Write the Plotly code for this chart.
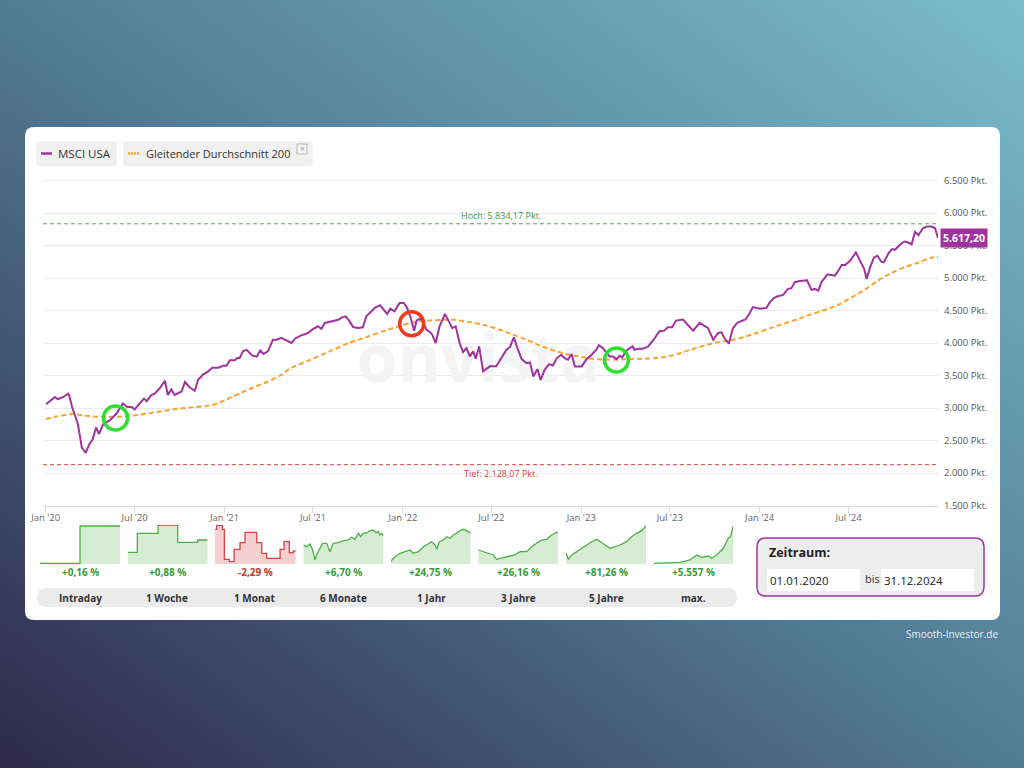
import base64
import plotly.graph_objects as go

# ---------------- data ----------------
msci_dates = [
    "2020-01-02", "2020-01-06", "2020-01-20", "2020-01-26", "2020-02-06", "2020-02-16", "2020-02-18",
    "2020-02-24", "2020-03-07", "2020-03-15", "2020-03-23", "2020-03-30", "2020-04-06", "2020-04-13",
    "2020-04-19", "2020-04-28", "2020-05-11", "2020-05-25", "2020-06-07", "2020-06-16", "2020-06-25",
    "2020-07-01", "2020-07-11", "2020-07-20", "2020-07-26", "2020-08-04", "2020-08-11", "2020-08-21",
    "2020-09-01", "2020-09-07", "2020-09-14", "2020-09-21", "2020-10-05", "2020-10-12", "2020-10-22",
    "2020-11-01", "2020-11-08", "2020-11-18", "2020-11-28", "2020-12-07", "2020-12-19", "2020-12-29",
    "2021-01-05", "2021-01-12", "2021-01-22", "2021-01-27", "2021-02-01", "2021-02-08", "2021-02-15",
    "2021-02-27", "2021-03-08", "2021-03-15", "2021-03-22", "2021-03-31", "2021-04-10", "2021-04-18",
    "2021-04-27", "2021-05-08", "2021-05-18", "2021-05-25", "2021-06-07", "2021-06-21", "2021-07-01",
    "2021-07-11", "2021-07-18", "2021-07-25", "2021-08-08", "2021-08-22", "2021-08-29", "2021-09-06",
    "2021-09-14", "2021-09-21", "2021-10-01", "2021-10-11", "2021-10-18", "2021-10-28", "2021-11-06",
    "2021-11-15", "2021-11-23", "2021-11-30", "2021-12-06", "2021-12-15", "2021-12-25", "2022-01-03",
    "2022-01-09", "2022-01-16", "2022-01-24", "2022-01-29", "2022-02-05", "2022-02-11", "2022-02-18",
    "2022-02-25", "2022-03-02", "2022-03-09", "2022-03-17", "2022-03-28", "2022-04-05", "2022-04-12",
    "2022-04-19", "2022-04-27", "2022-05-04", "2022-05-11", "2022-05-18", "2022-05-25", "2022-05-30",
    "2022-06-06", "2022-06-14", "2022-06-28", "2022-07-11", "2022-07-22", "2022-08-01", "2022-08-08",
    "2022-08-16", "2022-08-23", "2022-09-01", "2022-09-11", "2022-09-18", "2022-09-25", "2022-10-03",
    "2022-10-10", "2022-10-18", "2022-10-27", "2022-11-04", "2022-11-12", "2022-11-21", "2022-11-28",
    "2022-12-05", "2022-12-12", "2022-12-19", "2023-01-02", "2023-01-11", "2023-01-22", "2023-02-01",
    "2023-02-06", "2023-02-14", "2023-02-28", "2023-03-07", "2023-03-14", "2023-03-21", "2023-03-26",
    "2023-04-02", "2023-04-07", "2023-04-16", "2023-04-20", "2023-04-27", "2023-05-07", "2023-05-18",
    "2023-05-29", "2023-06-10", "2023-06-20", "2023-06-27", "2023-07-06", "2023-07-14", "2023-07-28",
    "2023-08-07", "2023-08-18", "2023-08-31", "2023-09-07", "2023-09-17", "2023-09-28", "2023-10-08",
    "2023-10-15", "2023-10-21", "2023-10-30", "2023-11-07", "2023-11-16", "2023-11-25", "2023-12-03",
    "2023-12-11", "2023-12-18", "2023-12-26", "2024-01-02", "2024-01-15", "2024-01-21", "2024-01-30",
    "2024-02-07", "2024-02-18", "2024-02-28", "2024-03-06", "2024-03-13", "2024-03-23", "2024-04-07",
    "2024-04-16", "2024-04-23", "2024-04-30", "2024-05-07", "2024-05-19", "2024-05-28", "2024-06-03",
    "2024-06-10", "2024-06-17", "2024-06-24", "2024-07-04", "2024-07-16", "2024-07-25", "2024-08-02",
    "2024-08-07", "2024-08-14", "2024-08-22", "2024-08-29", "2024-09-06", "2024-09-11", "2024-09-21",
    "2024-09-28", "2024-10-04", "2024-10-15", "2024-10-23", "2024-10-31", "2024-11-07", "2024-11-14",
    "2024-11-21", "2024-11-30", "2024-12-08", "2024-12-18", "2024-12-25", "2024-12-31",
]
msci_values = [
    3060, 3083, 3170, 3135, 3170, 3222, 3200,
    3015, 2750, 2390, 2310, 2440, 2515, 2700,
    2600, 2755, 2810, 2915, 3070, 3015, 3015,
    2980, 3070, 3145, 3105, 3200, 3220, 3300,
    3420, 3200, 3285, 3200, 3255, 3400, 3315,
    3265, 3435, 3515, 3560, 3620, 3620, 3650,
    3650, 3735, 3735, 3770, 3770, 3875, 3895,
    3805, 3790, 3885, 3830, 3875, 4050, 4050,
    4078, 4035, 4000, 4066, 4118, 4154, 4215,
    4257, 4220, 4308, 4333, 4358, 4395, 4410,
    4333, 4246, 4230, 4241, 4410, 4487, 4548,
    4580, 4512, 4446, 4528, 4487, 4615, 4615,
    4549, 4410, 4190, 4343, 4374, 4333, 4205,
    4170, 4128, 4000, 4256, 4446, 4333, 4230,
    4256, 4000, 3862, 3923, 3795, 3872, 3758,
    3949, 3564, 3641, 3641, 3769, 3897, 3938,
    4088, 3930, 3752, 3690, 3700, 3485, 3598,
    3432, 3587, 3675, 3655, 3768, 3820, 3768,
    3742, 3830, 3640, 3640, 3742, 3820, 3898,
    3965, 3922, 3794, 3794, 3752, 3803, 3778,
    3870, 3906, 3947, 3895, 3910, 3910, 3947,
    4050, 4180, 4190, 4242, 4242, 4345, 4360,
    4273, 4190, 4310, 4283, 4232, 4050, 4155,
    4165, 4072, 3990, 4220, 4312, 4338, 4362,
    4450, 4552, 4537, 4526, 4540, 4617, 4690,
    4720, 4740, 4832, 4843, 4935, 4955, 4965,
    4817, 4832, 4806, 4944, 5057, 5046, 5036,
    5112, 5199, 5199, 5265, 5393, 5250, 5138,
    4985, 5164, 5317, 5343, 5251, 5240, 5383,
    5444, 5434, 5520, 5561, 5546, 5520, 5709,
    5658, 5765, 5791, 5791, 5765, 5617.20,
]

ma_dates = [
    "2020-01-01", "2020-01-23", "2020-02-26", "2020-03-17", "2020-04-14", "2020-05-04", "2020-06-01",
    "2020-06-22", "2020-07-11", "2020-08-14", "2020-09-17", "2020-10-22", "2020-11-25", "2020-12-15",
    "2021-01-04", "2021-02-01", "2021-02-28", "2021-03-29", "2021-04-25", "2021-05-16", "2021-06-25",
    "2021-08-04", "2021-09-12", "2021-10-23", "2021-12-02", "2021-12-30", "2022-01-26", "2022-02-22",
    "2022-03-21", "2022-04-17", "2022-05-15", "2022-06-18", "2022-07-20", "2022-08-12", "2022-09-08",
    "2022-10-05", "2022-11-01", "2022-11-28", "2022-12-25", "2023-01-21", "2023-02-17", "2023-03-17",
    "2023-04-13", "2023-05-18", "2023-06-21", "2023-07-18", "2023-08-14", "2023-09-10", "2023-10-07",
    "2023-11-03", "2023-12-01", "2023-12-28", "2024-01-24", "2024-02-21", "2024-03-19", "2024-04-15",
    "2024-05-13", "2024-06-09", "2024-07-07", "2024-08-03", "2024-08-30", "2024-09-27", "2024-10-24",
    "2024-11-20", "2024-12-17", "2024-12-31",
]
ma_values = [
    2830, 2870, 2908, 2886, 2866, 2861, 2866,
    2877, 2897, 2938, 2978, 3009, 3031, 3066,
    3128, 3225, 3313, 3400, 3500, 3612, 3741,
    3871, 4000, 4103, 4206, 4274, 4321, 4345,
    4356, 4356, 4325, 4274, 4200, 4135, 4060,
    3970, 3895, 3835, 3795, 3760, 3745, 3745,
    3755, 3760, 3785, 3835, 3900, 3960, 4012,
    4040, 4094, 4160, 4233, 4300, 4368, 4440,
    4507, 4585, 4700, 4818, 4959, 5079, 5168,
    5235, 5313, 5324,
]

last_value = 5617.20
high_value = 5834.17
low_value = 2128.07

y_tick_vals = [1500, 2000, 2500, 3000, 3500, 4000, 4500, 5000, 5500, 6000, 6500]
y_tick_text = ["1.500 Pkt.", "2.000 Pkt.", "2.500 Pkt.", "3.000 Pkt.", "3.500 Pkt.", "4.000 Pkt.",
               "4.500 Pkt.", "5.000 Pkt.", "5.500 Pkt.", "6.000 Pkt.", "6.500 Pkt."]
x_tick_vals = ["2020-01-01", "2020-07-01", "2021-01-01", "2021-07-01", "2022-01-01", "2022-07-01",
               "2023-01-01", "2023-07-01", "2024-01-01", "2024-07-01"]
x_tick_text = ["Jan '20", "Jul '20", "Jan '21", "Jul '21", "Jan '22", "Jul '22",
               "Jan '23", "Jul '23", "Jan '24", "Jul '24"]

# crossing markers (date, value, kind)
cross_dates = ["2020-05-23", "2022-01-19", "2023-03-14"]
cross_values = [2846, 4297, 3738]
cross_kinds = ["buy", "sell", "buy"]

# mini performance charts (relative position within period, relative level)
period_labels = ["Intraday", "1 Woche", "1 Monat", "6 Monate", "1 Jahr", "3 Jahre", "5 Jahre", "max."]
period_perf = ["+0,16 %", "+0,88 %", "-2,29 %", "+6,70 %", "+24,75 %", "+26,16 %", "+81,26 %", "+5.557 %"]
spark_t = [
    [0, 0.5, 1.0],
    [0, 0.12, 0.38, 0.625, 0.875, 1.0],
    [0, 0.021, 0.091, 0.116, 0.178, 0.236, 0.310, 0.372, 0.517, 0.579, 0.640, 0.806, 0.855, 0.921, 0.971, 1.0],
    [0, 0.042, 0.083, 0.117, 0.146, 0.175, 0.208, 0.242, 0.292, 0.333, 0.375, 0.438, 0.5, 0.563, 0.604,
     0.646, 0.688, 0.717, 0.75, 0.8, 0.833, 0.875, 0.908, 0.938, 0.958, 0.979, 1.0],
    [0, 0.05, 0.113, 0.176, 0.239, 0.280, 0.343, 0.406, 0.469, 0.510, 0.552, 0.573, 0.607, 0.657, 0.699,
     0.741, 0.782, 0.845, 0.900, 0.950, 1.0],
    [0, 0.0625, 0.125, 0.1875, 0.229, 0.271, 0.333, 0.396, 0.458, 0.521, 0.604, 0.667, 0.729, 0.792, 0.854,
     0.917, 0.979, 1.0],
    [0, 0.029, 0.071, 0.133, 0.196, 0.258, 0.321, 0.383, 0.425, 0.488, 0.55, 0.613, 0.675, 0.758, 0.821,
     0.883, 0.946, 1.0],
    [0, 0.202, 0.328, 0.454, 0.538, 0.601, 0.685, 0.727, 0.790, 0.874, 0.937, 0.966, 0.992, 1.0],
]
spark_v = [
    [0.7, 38, 38],
    [11.7, 30.7, 38.7, 21.7, 24, 24],
    [34.7, 38.7, 34.7, 4.7, 2.3, 14.7, 21.3, 31.7, 21.3, 10.7, 5.7, 14.7, 22.3, 11.3, 13, 13],
    [19, 17.3, 20, 14, 4, 10.7, 15.7, 20.7, 20.7, 12.3, 20.7, 21.3, 23.3, 24, 26.7, 24.7, 30.7, 27.3, 30.7,
     31.3, 33.3, 34, 31.3, 32.3, 29, 30.7, 28],
    [3, 7.3, 10.7, 12.3, 14, 10.7, 12.3, 17.3, 20.7, 22.3, 19, 14.7, 22.3, 24, 27.3, 25.7, 29, 31.7, 34.7,
     33.3, 30.7],
    [14, 12.3, 10.7, 9, 4.7, 5.7, 6.7, 8, 9, 12.3, 12.3, 17.3, 20.7, 24, 24.7, 29, 31.7, 30.7],
    [11.3, 4.7, 9, 12.3, 15.7, 19, 22.3, 24.7, 22.3, 19, 15.7, 17.3, 19, 22.3, 27.3, 30.7, 33.3, 38],
    [0.7, 1, 1.7, 4, 9, 6.7, 8, 5.7, 9, 15.7, 25.7, 27.3, 35.7, 38],
]
spark_step = [True, True, True, False, False, False, False, False]

# ---------------- styling / layout helpers ----------------
W, H = 1024, 768
FONT = "Open Sans"
PURPLE = "#a0339e"
ORANGE = "#ffa028"
GREEN_TXT = "#3a9c36"
RED_TXT = "#c0392b"


def px(x):
    return x / W


def py(y):
    return 1 - y / H


def rrect(x0, y0, x1, y1, r):
    rx, ry = r / W, r / H
    X0, X1, Y0, Y1 = px(x0), px(x1), py(y0), py(y1)
    return (f"M {X0+rx},{Y0} L {X1-rx},{Y0} Q {X1},{Y0} {X1},{Y0-ry} L {X1},{Y1+ry} "
            f"Q {X1},{Y1} {X1-rx},{Y1} L {X0+rx},{Y1} Q {X0},{Y1} {X0},{Y1+ry} L {X0},{Y0-ry} "
            f"Q {X0},{Y0} {X0+rx},{Y0} Z")


svg = ("<svg xmlns='http://www.w3.org/2000/svg' width='1024' height='768' viewBox='0 0 1024 768' "
       "preserveAspectRatio='none'><defs><linearGradient id='g' x1='0' y1='1' x2='1' y2='0'>"
       "<stop offset='0' stop-color='#2e284a'/><stop offset='0.5' stop-color='#527b95'/>"
       "<stop offset='1' stop-color='#7cbdc9'/></linearGradient></defs>"
       "<rect width='1024' height='768' fill='url(#g)'/></svg>")
bg_uri = "data:image/svg+xml;base64," + base64.b64encode(svg.encode()).decode()

fig = go.Figure()

# watermark (below lines)
fig.add_trace(go.Scatter(x=["2022-06-04"], y=[3661], mode="text", text=["onvista"],
                         textfont=dict(family=FONT, size=66, color="#f4f4f4", weight="bold"),
                         hoverinfo="skip", showlegend=False))
fig.add_trace(go.Scatter(x=ma_dates, y=ma_values, mode="lines", name="Gleitender Durchschnitt 200",
                         line=dict(color=ORANGE, width=2, dash="5px,3px", shape="spline", smoothing=0.6),
                         showlegend=False))
fig.add_trace(go.Scatter(x=msci_dates, y=msci_values, mode="lines", name="MSCI USA",
                         line=dict(color=PURPLE, width=2), showlegend=False))

shapes = []
annotations = []

# card
shapes.append(dict(type="path", path=rrect(25, 127, 1000, 620, 9), xref="paper", yref="paper",
                   fillcolor="white", line=dict(width=0), layer="below"))

# high / low lines
shapes.append(dict(type="line", xref="x domain", yref="y", x0=0, x1=1, y0=high_value, y1=high_value,
                   line=dict(color="#4aa84a", width=1, dash="4px,3px")))
shapes.append(dict(type="line", xref="x domain", yref="y", x0=0, x1=1, y0=low_value, y1=low_value,
                   line=dict(color="#d8433a", width=1, dash="4px,3px")))
annotations.append(dict(xref="x domain", yref="y", x=0.5, y=high_value, xshift=10, yanchor="bottom",
                        text="Hoch: 5.834,17 Pkt.", showarrow=False,
                        font=dict(family=FONT, size=9, color="#3d9a3d")))
annotations.append(dict(xref="x domain", yref="y", x=0.5, y=low_value, xshift=10, yanchor="top",
                        text="Tief: 2.128,07 Pkt.", showarrow=False,
                        font=dict(family=FONT, size=9, color="#d8433a")))

# crossing circles
for d, v, k in zip(cross_dates, cross_values, cross_kinds):
    col = "#2fe02f" if k == "buy" else "#f23a1a"
    shapes.append(dict(type="circle", xref="x", yref="y", xsizemode="pixel", ysizemode="pixel",
                       xanchor=d, yanchor=v, x0=-12, x1=12, y0=-12, y1=12,
                       line=dict(color=col, width=3.5)))

# last value badge
annotations.append(dict(xref="x domain", yref="y", x=1, y=last_value, xanchor="left", xshift=2,
                        text="<b>5.617,20</b>", showarrow=False, bgcolor=PURPLE, borderpad=2,
                        font=dict(family=FONT, size=10.5, color="white")))

# legend chips
shapes.append(dict(type="path", path=rrect(36, 141, 117, 166, 4), xref="paper", yref="paper",
                   fillcolor="#f0f0f0", line=dict(width=0), layer="below"))
shapes.append(dict(type="path", path=rrect(123, 141, 313, 166, 4), xref="paper", yref="paper",
                   fillcolor="#f0f0f0", line=dict(width=0), layer="below"))
shapes.append(dict(type="line", xref="paper", yref="paper", x0=px(41), x1=px(52), y0=py(153.5), y1=py(153.5),
                   line=dict(color=PURPLE, width=2.5)))
shapes.append(dict(type="line", xref="paper", yref="paper", x0=px(128), x1=px(139), y0=py(153.5), y1=py(153.5),
                   line=dict(color=ORANGE, width=2.5, dash="2px,1px")))
shapes.append(dict(type="rect", xref="paper", yref="paper", x0=px(297), x1=px(307), y0=py(144), y1=py(154),
                   line=dict(color="#b8b8b8", width=1), fillcolor="#f4f4f4"))
annotations.append(dict(xref="paper", yref="paper", x=px(56), y=py(153.5), xanchor="left", yanchor="middle",
                        text="MSCI USA", showarrow=False, font=dict(family=FONT, size=11.5, color="#333")))
annotations.append(dict(xref="paper", yref="paper", x=px(144), y=py(153.5), xanchor="left", yanchor="middle",
                        text="Gleitender Durchschnitt 200", showarrow=False,
                        font=dict(family=FONT, size=11, color="#333")))
annotations.append(dict(xref="paper", yref="paper", x=px(302), y=py(149), xanchor="center", yanchor="middle",
                        text="×", showarrow=False, font=dict(family=FONT, size=9, color="#999")))

# sparkline panels
panel_x = [(40, 120), (127.7, 207.7), (215, 295.7), (303.3, 383.3), (391, 470.7), (478.3, 558.3),
           (566, 646), (654, 733.3)]
for i in range(8):
    ax = i + 2
    x0, x1 = panel_x[i]
    neg = period_perf[i].startswith("-")
    lc = "#d64545" if neg else "#4caf45"
    fc = "rgba(226,110,110,0.32)" if neg else "rgba(120,195,110,0.30)"
    fig.add_trace(go.Scatter(x=spark_t[i], y=spark_v[i], mode="lines", fill="tozeroy", fillcolor=fc,
                             line=dict(color=lc, width=1.3, shape="hv" if spark_step[i] else "linear"),
                             xaxis=f"x{ax}", yaxis=f"y{ax}", hoverinfo="skip", showlegend=False))
    fig.layout[f"xaxis{ax}"] = dict(domain=[px(x0), px(x1)], range=[0, 1], visible=False, fixedrange=True,
                                    anchor=f"y{ax}", automargin=False)
    fig.layout[f"yaxis{ax}"] = dict(domain=[py(564), py(525)], range=[0, 39], visible=False, fixedrange=True,
                                    anchor=f"x{ax}", automargin=False)
    annotations.append(dict(xref="paper", yref="paper", x=px((x0 + x1) / 2), y=py(572), xanchor="center",
                            yanchor="middle", text=f"<b>{period_perf[i]}</b>", showarrow=False,
                            font=dict(family=FONT, size=10, color=RED_TXT if neg else GREEN_TXT)))

# tab bar
shapes.append(dict(type="path", path=rrect(37, 588, 737, 607, 9.5), xref="paper", yref="paper",
                   fillcolor="#ebebeb", line=dict(width=0), layer="below"))
tab_cx = [80, 167, 255, 343, 431, 518, 606, 693]
for cx, lab in zip(tab_cx, period_labels):
    annotations.append(dict(xref="paper", yref="paper", x=px(cx), y=py(598), xanchor="center", yanchor="middle",
                            text=f"<b>{lab}</b>", showarrow=False, font=dict(family=FONT, size=10, color="#333")))

# Zeitraum box
shapes.append(dict(type="path", path=rrect(757, 538, 984, 596, 9), xref="paper", yref="paper",
                   fillcolor="#ededed", line=dict(color=PURPLE, width=1.5), layer="below"))
shapes.append(dict(type="rect", xref="paper", yref="paper", x0=px(767), x1=px(860), y0=py(591), y1=py(569),
                   fillcolor="white", line=dict(width=0), layer="below"))
shapes.append(dict(type="rect", xref="paper", yref="paper", x0=px(881), x1=px(974), y0=py(591), y1=py(569),
                   fillcolor="white", line=dict(width=0), layer="below"))
annotations.append(dict(xref="paper", yref="paper", x=px(767), y=py(552), xanchor="left", yanchor="middle",
                        text="<b>Zeitraum:</b>", showarrow=False, font=dict(family=FONT, size=12.5, color="#222")))
annotations.append(dict(xref="paper", yref="paper", x=px(768), y=py(580), xanchor="left", yanchor="middle",
                        text="01.01.2020", showarrow=False, font=dict(family=FONT, size=11.5, color="#222")))
annotations.append(dict(xref="paper", yref="paper", x=px(863), y=py(578), xanchor="left", yanchor="middle",
                        text="bis", showarrow=False, font=dict(family=FONT, size=11, color="#333")))
annotations.append(dict(xref="paper", yref="paper", x=px(882), y=py(580), xanchor="left", yanchor="middle",
                        text="31.12.2024", showarrow=False, font=dict(family=FONT, size=11.5, color="#222")))

# footer credit
annotations.append(dict(xref="paper", yref="paper", x=px(1000), y=py(634), xanchor="right", yanchor="middle",
                        text="Smooth-Investor.de", showarrow=False,
                        font=dict(family=FONT, size=10, color="#e6edf3")))

fig.update_layout(
    width=W, height=H, margin=dict(l=0, r=0, t=0, b=0, pad=0), autosize=False,
    paper_bgcolor="#4f7893", plot_bgcolor="rgba(0,0,0,0)",
    font=dict(family=FONT),
    showlegend=False,
    images=[dict(source=bg_uri, xref="paper", yref="paper", x=0, y=1, sizex=1, sizey=1,
                 xanchor="left", yanchor="top", sizing="stretch", layer="below")],
    xaxis=dict(domain=[px(43), px(938)], range=["2019-12-26 12:00", "2024-12-31"], type="date",
               tickvals=x_tick_vals, ticktext=x_tick_text, showgrid=False, zeroline=False,
               showline=True, linecolor="#d6dae8", linewidth=1, ticks="outside", ticklen=6,
               tickcolor="#d6dae8", tickfont=dict(family=FONT, size=9.5, color="#666"), fixedrange=True,
               ticklabelstandoff=-3, automargin=False),
    yaxis=dict(domain=[py(505.5), py(174)], range=[1500, 6600], side="right", tickvals=y_tick_vals,
               ticktext=y_tick_text, showgrid=True, gridcolor="#ebebeb", gridwidth=1, zeroline=False,
               showline=False, ticks="", ticklabelstandoff=5,
               tickfont=dict(family=FONT, size=9.5, color="#555"), fixedrange=True, automargin=False),
    shapes=shapes,
    annotations=annotations,
)

fig.write_html("out.html", config={"displayModeBar": False},
               post_script="document.body.style.margin='0';document.body.style.overflow='hidden';")
